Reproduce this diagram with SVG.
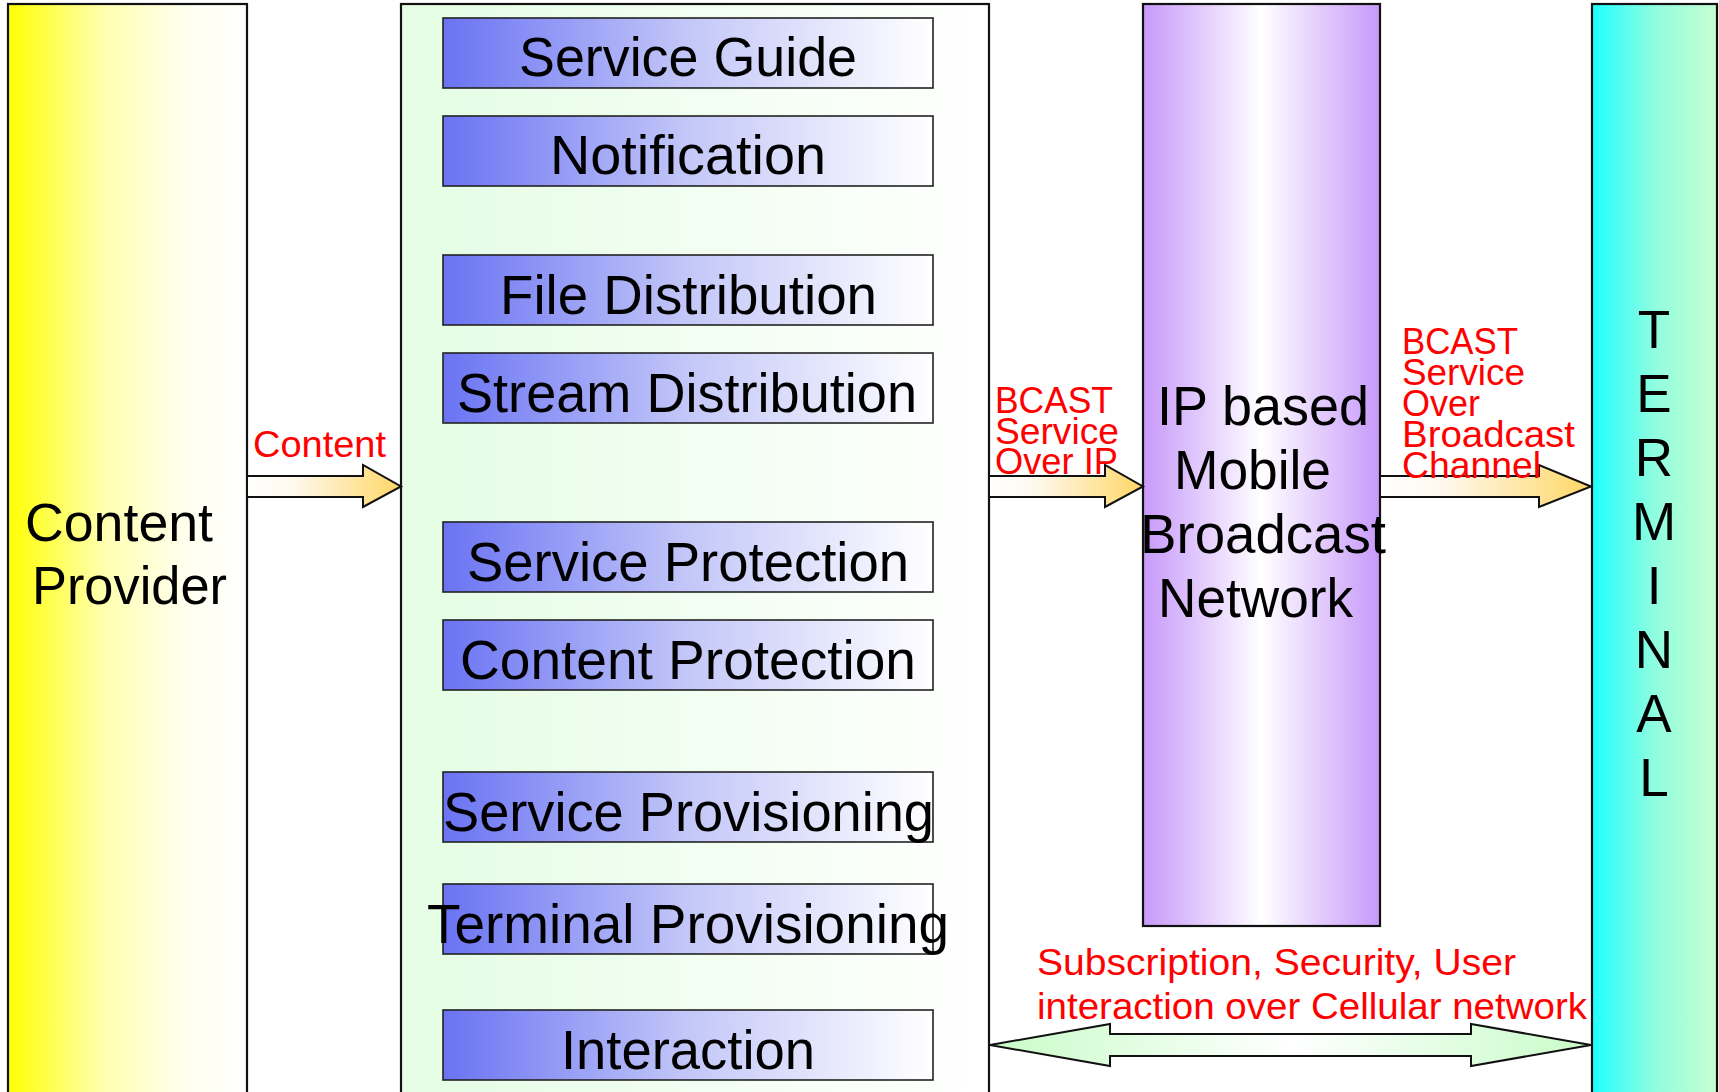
<svg xmlns="http://www.w3.org/2000/svg" width="1719" height="1092" viewBox="0 0 1719 1092">
<defs>
<linearGradient id="gYellow" x1="0" y1="0" x2="1" y2="0">
<stop offset="0" stop-color="#ffff00"/>
<stop offset="0.08" stop-color="#ffff25"/>
<stop offset="0.4" stop-color="#ffffb0"/>
<stop offset="0.75" stop-color="#fffff0"/>
<stop offset="1" stop-color="#ffffff"/>
</linearGradient>
<linearGradient id="gGreen" x1="0" y1="0" x2="1" y2="0">
<stop offset="0" stop-color="#e4fde4"/>
<stop offset="1" stop-color="#ffffff"/>
</linearGradient>
<linearGradient id="gBlue" x1="0" y1="0" x2="1" y2="0">
<stop offset="0" stop-color="#6a73f3"/>
<stop offset="0.5" stop-color="#c3c7f8"/>
<stop offset="1" stop-color="#ffffff"/>
</linearGradient>
<linearGradient id="gPurple" x1="0" y1="0" x2="1" y2="0">
<stop offset="0" stop-color="#c799fa"/>
<stop offset="0.5" stop-color="#ffffff"/>
<stop offset="1" stop-color="#c799fa"/>
</linearGradient>
<linearGradient id="gCyan" x1="0" y1="0" x2="1" y2="0">
<stop offset="0" stop-color="#1effff"/>
<stop offset="0.5" stop-color="#8ffde0"/>
<stop offset="1" stop-color="#c8ffd0"/>
</linearGradient>
<linearGradient id="gArrow" x1="0" y1="0" x2="1" y2="0">
<stop offset="0" stop-color="#ffffff"/>
<stop offset="0.3" stop-color="#fff8ee"/>
<stop offset="1" stop-color="#ffd766"/>
</linearGradient>
<linearGradient id="gBi" x1="0" y1="0" x2="1" y2="0">
<stop offset="0" stop-color="#c8fcc8"/>
<stop offset="0.5" stop-color="#ffffff"/>
<stop offset="1" stop-color="#c8fcc8"/>
</linearGradient>
</defs>
<style>
.box{stroke:#111;stroke-width:2.2}
.sub{fill:url(#gBlue);stroke:#222;stroke-width:1.6}
.lbl{font-family:"Liberation Sans",Arial,sans-serif;font-size:56px;fill:#000}
.red{font-family:"Liberation Sans",Arial,sans-serif;font-size:36px;fill:#ff0000}
.arr{fill:url(#gArrow);stroke:#111;stroke-width:2}
.term{font-family:"Liberation Sans",Arial,sans-serif;font-size:53px;fill:#000;text-anchor:middle}
</style>
<rect width="1719" height="1092" fill="#ffffff"/>

<g id="content-provider">
<rect class="box" x="8" y="4" width="239" height="1100" fill="url(#gYellow)"/>
<text class="lbl" style="font-size:53px" x="25" y="541" textLength="188" lengthAdjust="spacingAndGlyphs">Content</text>
<text class="lbl" style="font-size:53px" x="32" y="604" textLength="195" lengthAdjust="spacingAndGlyphs">Provider</text>
</g>

<g id="bcast-server">
<rect class="box" x="401" y="4" width="588" height="1100" fill="url(#gGreen)"/>
</g>

<g id="service-guide">
<rect class="sub" x="443" y="18" width="490" height="70"/>
<text class="lbl" x="519" y="76" textLength="338" lengthAdjust="spacingAndGlyphs">Service Guide</text>
</g>
<g id="notification">
<rect class="sub" x="443" y="116" width="490" height="70"/>
<text class="lbl" x="550" y="174" textLength="276" lengthAdjust="spacingAndGlyphs">Notification</text>
</g>
<g id="file-distribution">
<rect class="sub" x="443" y="255" width="490" height="70"/>
<text class="lbl" x="500" y="314" textLength="377" lengthAdjust="spacingAndGlyphs">File Distribution</text>
</g>
<g id="stream-distribution">
<rect class="sub" x="443" y="353" width="490" height="70"/>
<text class="lbl" x="457" y="412" textLength="460" lengthAdjust="spacingAndGlyphs">Stream Distribution</text>
</g>
<g id="service-protection">
<rect class="sub" x="443" y="522" width="490" height="70"/>
<text class="lbl" x="467" y="581" textLength="442" lengthAdjust="spacingAndGlyphs">Service Protection</text>
</g>
<g id="content-protection">
<rect class="sub" x="443" y="620" width="490" height="70"/>
<text class="lbl" x="460" y="679" textLength="456" lengthAdjust="spacingAndGlyphs">Content Protection</text>
</g>
<g id="service-provisioning">
<rect class="sub" x="443" y="772" width="490" height="70"/>
<text class="lbl" x="443" y="831" textLength="491" lengthAdjust="spacingAndGlyphs">Service Provisioning</text>
</g>
<g id="terminal-provisioning">
<rect class="sub" x="443" y="884" width="490" height="70"/>
<text class="lbl" x="427" y="943" textLength="522" lengthAdjust="spacingAndGlyphs">Terminal Provisioning</text>
</g>
<g id="interaction">
<rect class="sub" x="443" y="1010" width="490" height="70"/>
<text class="lbl" x="561" y="1069" textLength="254" lengthAdjust="spacingAndGlyphs">Interaction</text>
</g>

<g id="broadcast-network">
<rect class="box" x="1143" y="4" width="237" height="922" fill="url(#gPurple)"/>
<text class="lbl" x="1157" y="425" textLength="212" lengthAdjust="spacingAndGlyphs">IP based</text>
<text class="lbl" x="1174" y="489" textLength="157" lengthAdjust="spacingAndGlyphs">Mobile</text>
<text class="lbl" x="1140" y="553" textLength="246" lengthAdjust="spacingAndGlyphs">Broadcast</text>
<text class="lbl" x="1158" y="617" textLength="195" lengthAdjust="spacingAndGlyphs">Network</text>
</g>

<g id="terminal">
<rect class="box" x="1592" y="4" width="125" height="1100" fill="url(#gCyan)"/>
<text class="term" x="1654" y="348">T</text>
<text class="term" x="1654" y="412">E</text>
<text class="term" x="1654" y="476">R</text>
<text class="term" x="1654" y="540">M</text>
<text class="term" x="1654" y="604">I</text>
<text class="term" x="1654" y="668">N</text>
<text class="term" x="1654" y="732">A</text>
<text class="term" x="1654" y="796">L</text>
</g>

<g id="connectors">
<path class="arr" d="M247,476 H363 V465 L401,486.5 L363,507 V497 H247 Z"/>
<path class="arr" d="M989,476 H1105 V465 L1143,486.5 L1105,507 V497 H989 Z"/>
<path class="arr" d="M1380,476 H1539 V465 L1591,486.5 L1539,507 V497 H1380 Z"/>
<path d="M990,1045 L1110,1024 V1034 H1471 V1024 L1591,1045 L1471,1066 V1056 H1110 V1066 Z" fill="url(#gBi)" stroke="#111" stroke-width="2"/>
<text class="red" x="253" y="457" textLength="133" lengthAdjust="spacingAndGlyphs">Content</text>
<text class="red" x="995" y="413" textLength="118" lengthAdjust="spacingAndGlyphs">BCAST</text>
<text class="red" x="995" y="444" textLength="124" lengthAdjust="spacingAndGlyphs">Service</text>
<text class="red" x="995" y="474" textLength="123" lengthAdjust="spacingAndGlyphs">Over IP</text>
<text class="red" x="1402" y="354" textLength="116" lengthAdjust="spacingAndGlyphs">BCAST</text>
<text class="red" x="1402" y="385" textLength="123" lengthAdjust="spacingAndGlyphs">Service</text>
<text class="red" x="1402" y="416" textLength="78" lengthAdjust="spacingAndGlyphs">Over</text>
<text class="red" x="1402" y="447" textLength="173" lengthAdjust="spacingAndGlyphs">Broadcast</text>
<text class="red" x="1402" y="478" textLength="139" lengthAdjust="spacingAndGlyphs">Channel</text>
<text class="red" style="font-size:37px" x="1037" y="975" textLength="479" lengthAdjust="spacingAndGlyphs">Subscription, Security, User</text>
<text class="red" style="font-size:37px" x="1037" y="1019" textLength="550" lengthAdjust="spacingAndGlyphs">interaction over Cellular network</text>
</g>
</svg>
